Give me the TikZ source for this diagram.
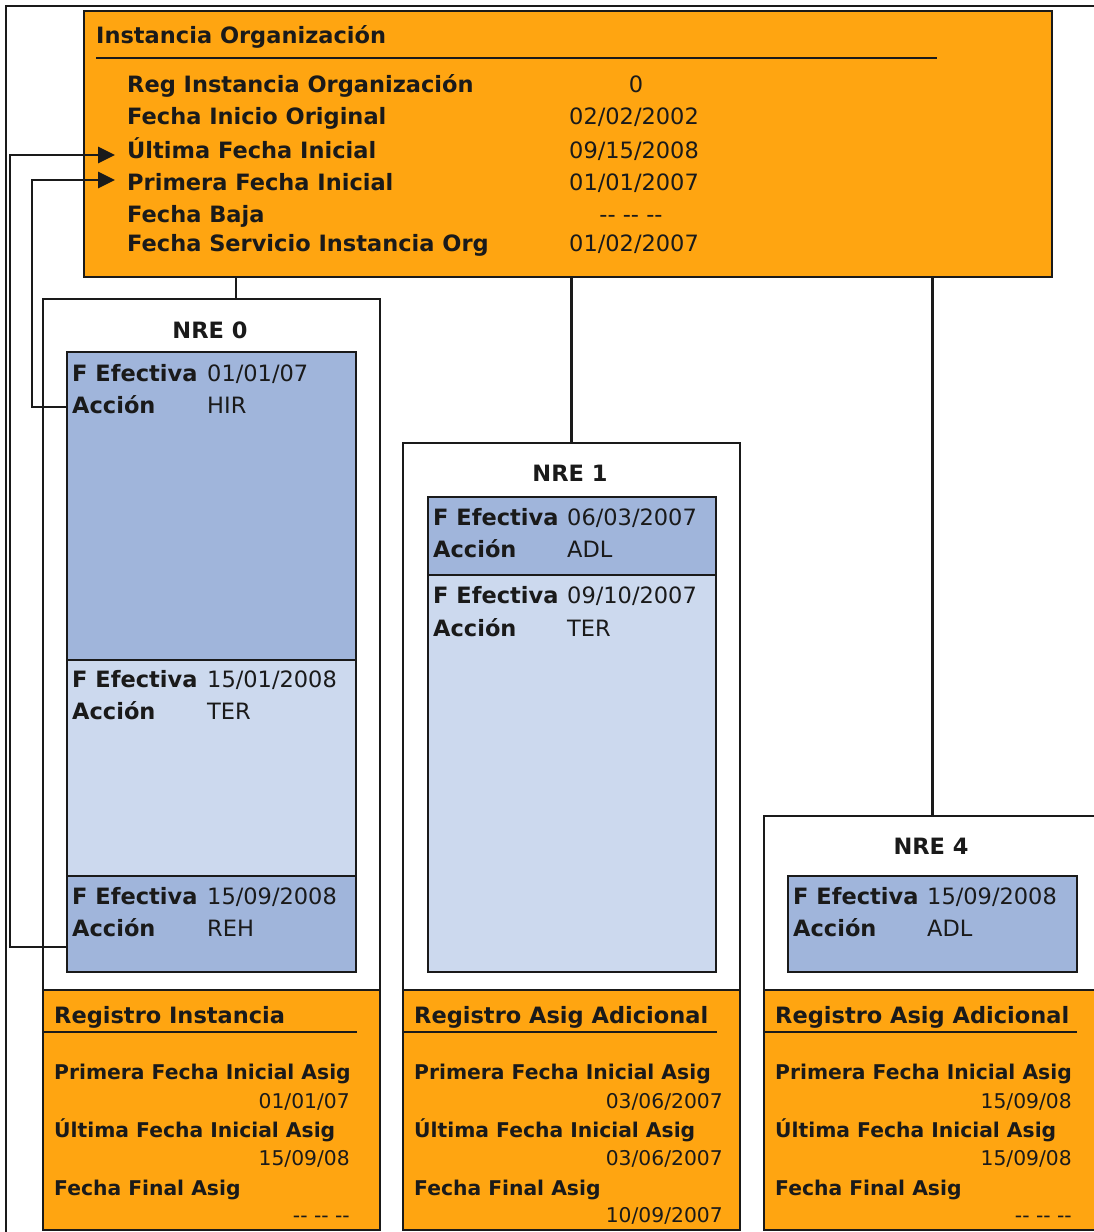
\documentclass[tikz,border=0pt]{standalone}
\usepackage{fontspec}
\setmainfont{DejaVu Sans}
\usetikzlibrary{arrows.meta}

\definecolor{ink}{HTML}{1A1A1A}
\definecolor{orng}{HTML}{FFA511}
\definecolor{bluedk}{HTML}{A0B5DB}
\definecolor{bluelt}{HTML}{CCD9EE}

\newcommand\fbig{\fontsize{22.5}{27}\selectfont}
\newcommand\fsmall{\fontsize{20.3}{24}\selectfont}

% rectangle node given by its corners (x1,y1) and (x2,y2)
\newcommand\panel[6]{%
  \node[#2, anchor=north west, minimum width={(#5)-(#3)}, minimum height={(#6)-(#4)}] (#1) at (#3,#4) {};}

% text of a record box: name, left x, text x, value right x, rule right x, title, three values
\newcommand\record[9]{%
  \node[lbl, anchor=base west] (#1-title) at (#3,1023) {#6};
  \draw[rule] (#2,1032) -- (#5,1032);
  \node[slbl, anchor=base west] (#1-a) at (#3,1079) {Primera Fecha Inicial Asig};
  \node[sval, anchor=base east] (#1-av) at (#4,1108) {#7};
  \node[slbl, anchor=base west] (#1-b) at (#3,1137) {Última Fecha Inicial Asig};
  \node[sval, anchor=base east] (#1-bv) at (#4,1165) {#8};
  \node[slbl, anchor=base west] (#1-c) at (#3,1195) {Fecha Final Asig};
  \node[sval, anchor=base east] (#1-cv) at (#4,1222) {#9};}

\begin{document}
\begin{tikzpicture}[x=1pt,y=-1pt,
  edge/.style={draw=ink, line width=2.8pt},
  rule/.style={draw=ink, line width=2.8pt},
  orangebox/.style={draw=ink, line width=2.8pt, fill=orng, inner sep=0pt, outer sep=0pt},
  whitebox/.style={draw=ink, line width=2.8pt, fill=white, inner sep=0pt, outer sep=0pt},
  darkrow/.style={draw=ink, line width=2.8pt, fill=bluedk, inner sep=0pt, outer sep=0pt},
  lightrow/.style={draw=ink, line width=2.8pt, fill=bluelt, inner sep=0pt, outer sep=0pt},
  lbl/.style={font=\fbig\bfseries, text=ink, inner sep=0pt},
  val/.style={font=\fbig, text=ink, inner sep=0pt},
  slbl/.style={font=\fsmall\bfseries, text=ink, inner sep=0pt},
  sval/.style={font=\fsmall, text=ink, inner sep=0pt},
  link/.style={draw=ink, line width=2.8pt, -{Triangle[length=17pt,width=16pt]}},
]
\useasboundingbox (0,0) rectangle (1094,1232);
\clip (0,0) rectangle (1094,1232);
\fill[white] (0,0) rectangle (1094,1232);

% outer frame
\draw[edge] (6,1260) -- (6,6) -- (1120,6);

% organization instance
\panel{org}{orangebox}{84}{11}{1052}{277}
\node[lbl, anchor=base west] (orgTitle) at (96,43) {Instancia Organización};
\draw[rule] (96,58) -- (937,58);
\node[lbl, anchor=base west] (lReg) at (127,92) {Reg Instancia Organización};
\node[lbl, anchor=base west] (lIni) at (127,124) {Fecha Inicio Original};
\node[lbl, anchor=base west] (lUlt) at (127,158) {Última Fecha Inicial};
\node[lbl, anchor=base west] (lPri) at (127,190) {Primera Fecha Inicial};
\node[lbl, anchor=base west] (lBaja) at (127,222) {Fecha Baja};
\node[lbl, anchor=base west] (lServ) at (127,251) {Fecha Servicio Instancia Org};
\node[val, anchor=base] (vReg) at (636,92) {0};
\node[val, anchor=base west] (vIni) at (569,124) {02/02/2002};
\node[val, anchor=base west] (vUlt) at (569,158) {09/15/2008};
\node[val, anchor=base west] (vPri) at (569,190) {01/01/2007};
\node[val, anchor=base] (vBaja) at (631,222) {{-}{-} {-}{-} {-}{-}};
\node[val, anchor=base west] (vServ) at (569,251) {01/02/2007};
\coordinate (ultTip) at (115,155);
\coordinate (priTip) at (115,180);

% employee records
\panel{nre0}{whitebox}{43}{299}{380}{990}
\panel{nre1}{whitebox}{403}{443}{740}{990}
\panel{nre4}{whitebox}{764}{816}{1101}{990}
\draw[edge] ([xshift=24.5]nre0.north) -- ([xshift=24.5]nre0.north |- org.south);
\draw[edge] (nre1.north) -- (nre1.north |- org.south);
\draw[edge] (nre4.north) -- (nre4.north |- org.south);

\node[lbl, anchor=base] (h0) at (210,338) {NRE 0};
\node[lbl, anchor=base] (h1) at (570,481) {NRE 1};
\node[lbl, anchor=base] (h4) at (931,854) {NRE 4};

% job rows
\panel{s01}{darkrow}{67}{352}{356}{660}
\panel{s02}{lightrow}{67}{660}{356}{876}
\panel{s03}{darkrow}{67}{876}{356}{972}
\panel{s11}{darkrow}{428}{497}{716}{575}
\panel{s12}{lightrow}{428}{575}{716}{972}
\panel{s41}{darkrow}{788}{876}{1077}{972}

\node[lbl, anchor=base west] (e01) at (72,381) {F Efectiva};
\node[val, anchor=base west] (e01v) at (207,381) {01/01/07};
\node[lbl, anchor=base west] (a01) at (72,413) {Acción};
\node[val, anchor=base west] (a01v) at (207,413) {HIR};
\node[lbl, anchor=base west] (e02) at (72,687) {F Efectiva};
\node[val, anchor=base west] (e02v) at (207,687) {15/01/2008};
\node[lbl, anchor=base west] (a02) at (72,719) {Acción};
\node[val, anchor=base west] (a02v) at (207,719) {TER};
\node[lbl, anchor=base west] (e03) at (72,904) {F Efectiva};
\node[val, anchor=base west] (e03v) at (207,904) {15/09/2008};
\node[lbl, anchor=base west] (a03) at (72,936) {Acción};
\node[val, anchor=base west] (a03v) at (207,936) {REH};

\node[lbl, anchor=base west] (e11) at (433,525) {F Efectiva};
\node[val, anchor=base west] (e11v) at (567,525) {06/03/2007};
\node[lbl, anchor=base west] (a11) at (433,557) {Acción};
\node[val, anchor=base west] (a11v) at (567,557) {ADL};
\node[lbl, anchor=base west] (e12) at (433,603) {F Efectiva};
\node[val, anchor=base west] (e12v) at (567,603) {09/10/2007};
\node[lbl, anchor=base west] (a12) at (433,636) {Acción};
\node[val, anchor=base west] (a12v) at (567,636) {TER};

\node[lbl, anchor=base west] (e41) at (793,904) {F Efectiva};
\node[val, anchor=base west] (e41v) at (927,904) {15/09/2008};
\node[lbl, anchor=base west] (a41) at (793,936) {Acción};
\node[val, anchor=base west] (a41v) at (927,936) {ADL};

% links from job rows to the start dates
\coordinate (s01pin) at (67,407);
\coordinate (s03pin) at (67,947);
\draw[link] (s03pin) -- ++(-57,0) |- (ultTip);
\draw[link] (s01pin) -- ++(-35,0) |- (priTip);

% record boxes
\panel{r0}{orangebox}{43}{990}{380}{1230}
\panel{r1}{orangebox}{403}{990}{740}{1230}
\panel{r4}{orangebox}{764}{990}{1101}{1230}
\record{r0}{43}{54}{350}{357}{Registro Instancia}{01/01/07}{15/09/08}{{-}{-} {-}{-} {-}{-}}
\record{r1}{403}{414}{723}{717}{Registro Asig Adicional}{03/06/2007}{03/06/2007}{10/09/2007}
\record{r4}{764}{775}{1072}{1077}{Registro Asig Adicional}{15/09/08}{15/09/08}{{-}{-} {-}{-} {-}{-}}
\end{tikzpicture}
\end{document}
